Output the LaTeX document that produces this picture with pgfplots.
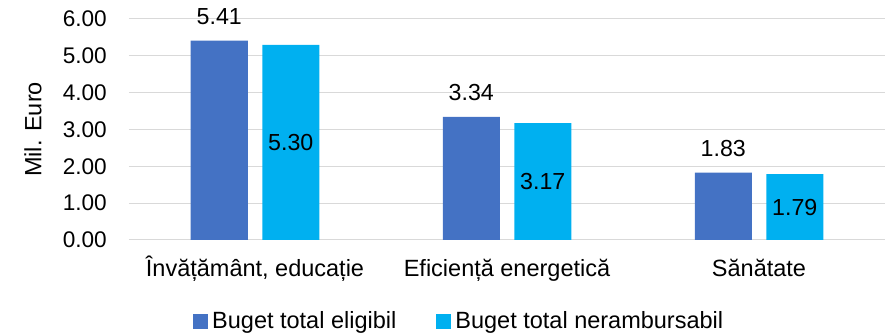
\documentclass[border=0pt]{standalone}
\usepackage{pgfplots}
\pgfplotsset{compat=1.18}
\usepackage{fontspec}
\setmainfont{Liberation Sans}
\definecolor{cdark}{HTML}{4472C4}
\definecolor{clight}{HTML}{00B0F0}
\definecolor{cgrid}{HTML}{D9D9D9}
\begin{document}
\fontsize{23.5}{27}\selectfont
\begin{tikzpicture}
\useasboundingbox (-129pt,-96pt) rectangle (759pt,240pt);
\begin{axis}[
  scale only axis,
  width=756pt, height=221pt,
  at={(0,0)}, anchor=south west,
  xmin=-0.5, xmax=2.5,
  ymin=0, ymax=6,
  ytick={0,1,2,3,4,5,6},
  xtick={0,1,2},
  xticklabels={{Învățământ, educație}, {Eficiență energetică}, {Sănătate}},
  axis line style={draw=none},
  ymajorgrids,
  grid style={cgrid, line width=1pt},
  major tick length=0pt,
  tick style={draw=none},
  /pgf/number format/assume math mode=true,
  yticklabel={\pgfmathprintnumber[fixed,fixed zerofill,precision=2]{\tick}},
  yticklabel style={anchor=east, inner sep=0pt, xshift=-22pt, font=\fontsize{22.6}{26}\selectfont},
  xticklabel style={anchor=base, inner sep=0pt, yshift=-37pt, font=\fontsize{23.5}{27}\selectfont},
  ylabel={Mil. Euro},
  ylabel style={at={(axis description cs:0,0.5)}, anchor=center, inner sep=0pt, yshift=96pt, font=\fontsize{23.5}{27}\selectfont},
  bar width=57pt,
  legend columns=2,
  legend style={draw=none, fill=none, at={(axis description cs:0,0)}, anchor=west,
    xshift=64pt, yshift=-82pt, inner sep=0pt,
    nodes={inner xsep=4pt, inner ysep=0pt, anchor=west, font=\fontsize{23.5}{27}\selectfont},
    /tikz/every even column/.append style={column sep=36pt}},
  legend image code/.code={\fill[#1,draw=none] (0pt,-7.5pt) rectangle (15pt,7.5pt);},
  clip=false,
]
\draw[cgrid, line width=1pt] (axis cs:-0.5,0) -- (axis cs:2.5,0);
\addplot[ybar, bar shift=-35.75pt, fill=cdark, draw=none,
  nodes near coords={\pgfmathprintnumber[fixed,fixed zerofill,precision=2,assume math mode=true]{\pgfplotspointmeta}},
  every node near coord/.append style={anchor=base, inner sep=0pt, xshift=-35.75pt, yshift=16.5pt, text=black, font=\fontsize{23.2}{27}\selectfont}]
  coordinates {(0,5.41) (1,3.34) (2,1.83)};
\addlegendentry{Buget total eligibil}
\addplot[ybar, bar shift=35.75pt, fill=clight, draw=none,
  visualization depends on=y \as \rawy,
  nodes near coords={\pgfmathprintnumber[fixed,fixed zerofill,precision=2,assume math mode=true]{\pgfplotspointmeta}},
  every node near coord/.append style={anchor=center, inner sep=0pt, text=black, xshift=35.75pt, yshift=-\rawy*18.4167pt, font=\fontsize{23.2}{27}\selectfont}]
  coordinates {(0,5.30) (1,3.17) (2,1.79)};
\addlegendentry{Buget total nerambursabil}
\end{axis}
\end{tikzpicture}
\end{document}
